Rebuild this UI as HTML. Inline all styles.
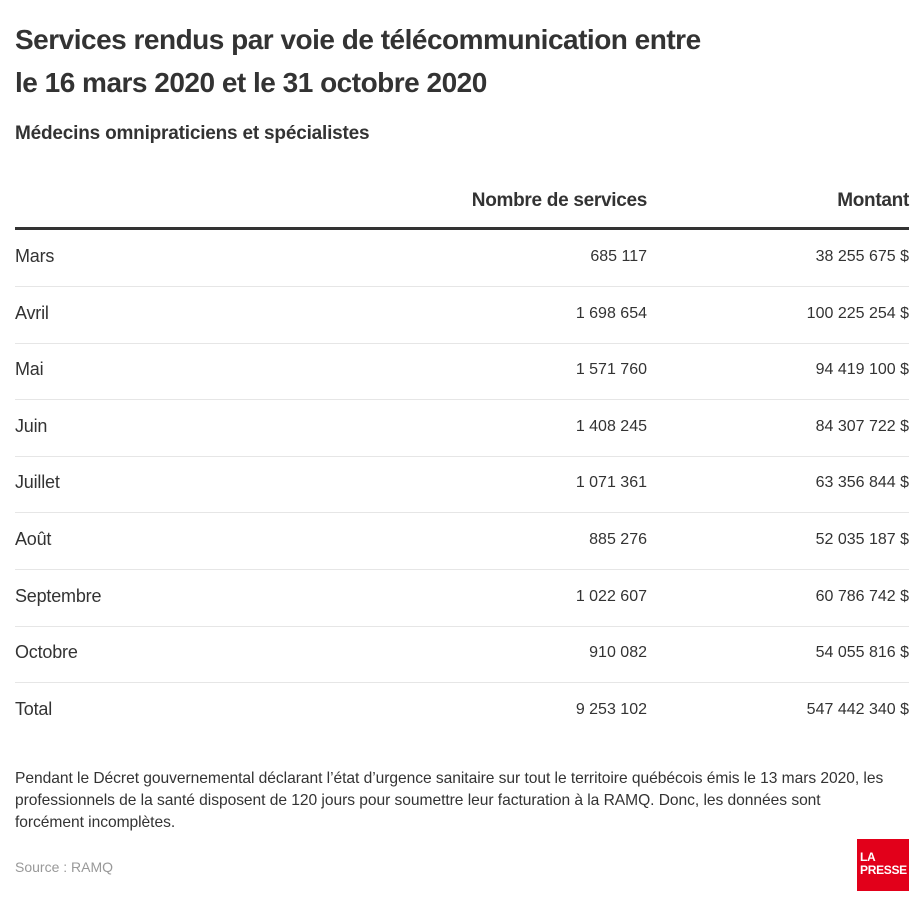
<!DOCTYPE html>
<html><head><meta charset="utf-8"><style>
body{margin:0;width:924px;height:911px;background:#fff;font-family:"Liberation Sans",sans-serif;color:#333;position:relative;overflow:hidden}
.a{position:absolute;white-space:nowrap}
.t{left:15px;font-size:28px;font-weight:bold;letter-spacing:-0.5px;color:#333}
.sub{left:15px;top:123px;font-size:19px;font-weight:bold;letter-spacing:-0.2px}
.h{top:190px;font-size:19px;font-weight:bold;letter-spacing:-0.3px}
.r{font-size:18px;letter-spacing:-0.2px}
.n{font-size:16px}
.line{position:absolute;left:15px;width:894px;height:1px;background:#e6e6e6}
.fn{left:15px;font-size:15.6px;line-height:22px;letter-spacing:-0.05px;color:#333}
</style></head><body>
<div class="a t" style="top:24px">Services rendus par voie de télécommunication entre</div>
<div class="a t" style="top:67px">le 16 mars 2020 et le 31 octobre 2020</div>
<div class="a sub">Médecins omnipraticiens et spécialistes</div>
<div class="a h" style="right:277px">Nombre de services</div>
<div class="a h" style="right:15px">Montant</div>
<div style="position:absolute;left:15px;top:227px;width:894px;height:3px;background:#333"></div>
<div id="rows"></div>
<script>
var d=[["Mars","685 117","38 255 675 $"],["Avril","1 698 654","100 225 254 $"],["Mai","1 571 760","94 419 100 $"],["Juin","1 408 245","84 307 722 $"],["Juillet","1 071 361","63 356 844 $"],["Août","885 276","52 035 187 $"],["Septembre","1 022 607","60 786 742 $"],["Octobre","910 082","54 055 816 $"],["Total","9 253 102","547 442 340 $"]];
var h="";
d.forEach(function(r,i){var c=257+i*56.6;
h+='<div class="a r" style="left:15px;top:'+(c-11)+'px">'+r[0]+'</div>';
h+='<div class="a n" style="right:277px;top:'+(c-9)+'px">'+r[1]+'</div>';
h+='<div class="a n" style="right:15px;top:'+(c-9)+'px">'+r[2]+'</div>';
if(i<8)h+='<div class="line" style="top:'+Math.round(c+29)+'px"></div>';});
document.getElementById("rows").innerHTML=h;
</script>
<div class="a fn" style="top:768px">Pendant le Décret gouvernemental déclarant l’état d’urgence sanitaire sur tout le territoire québécois émis le 13 mars 2020, les</div>
<div class="a fn" style="top:790px">professionnels de la santé disposent de 120 jours pour soumettre leur facturation à la RAMQ. Donc, les données sont</div>
<div class="a fn" style="top:812px">forcément incomplètes.</div>
<div class="a" style="left:15px;top:859px;font-size:14px;color:#999">Source : RAMQ</div>
<div style="position:absolute;left:857px;top:839px;width:52px;height:52px;background:#e2001a;color:#fff;font-weight:bold;font-size:12px;line-height:13px;box-sizing:border-box;padding:12px 0 0 3px;letter-spacing:-0.3px">LA<br>PRESSE</div>
</body></html>
